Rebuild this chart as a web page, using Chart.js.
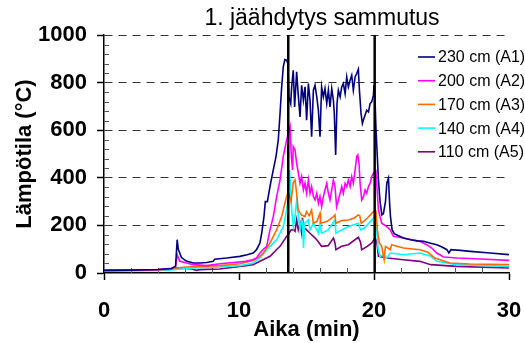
<!DOCTYPE html>
<html>
<head>
<meta charset="utf-8">
<script src="https://cdn.jsdelivr.net/npm/chart.js@4.4.1/dist/chart.umd.min.js"></script>
<style>
  body { margin: 0; background: #fff; }
  #kaavio { display: block; }
</style>
</head>
<body>
<canvas id="kaavio" width="525" height="343"></canvas>
<script>
// Mittaukset: aika (min) ja lämpötila (°C) kullakin korkeudella
const aikaA1 = [0, 2, 4, 5.0, 5.3, 5.42, 5.5, 5.74, 6.1, 6.6, 7.1, 7.6, 8.09, 8.2, 9.08, 10.07, 10.6, 11.05, 11.3, 11.55, 11.68, 11.85, 11.95, 12.1, 12.34, 12.54, 12.74, 12.91, 13.04, 13.16, 13.28, 13.4, 13.53, 13.62, 13.7, 13.83, 13.9, 14.02, 14.12, 14.27, 14.4, 14.52, 14.64, 14.77, 14.89, 15.01, 15.14, 15.26, 15.38, 15.51, 15.63, 15.76, 15.88, 16.0, 16.12, 16.25, 16.37, 16.5, 16.62, 16.74, 16.87, 16.99, 17.06, 17.16, 17.26, 17.36, 17.49, 17.61, 17.73, 17.86, 17.98, 18.1, 18.23, 18.35, 18.47, 18.6, 18.72, 18.84, 18.92, 19.04, 19.14, 19.29, 19.46, 19.59, 19.71, 19.83, 19.96, 20.0, 20.08, 20.15, 20.33, 20.45, 20.58, 20.7, 20.85, 20.95, 21.07, 21.15, 21.22, 21.34, 21.5, 21.7, 22.18, 22.7, 23.2, 23.67, 24.2, 24.65, 25.0, 25.4, 25.55, 25.7, 26.4, 27.13, 28.6, 30];
const lampoA1 = [11, 12, 15, 19, 28, 140, 100, 65, 50, 42, 42, 44, 49, 58, 63, 70, 77, 84, 98, 126, 167, 237, 300, 300, 377, 433, 489, 559, 670, 782, 866, 897, 894, 880, 740, 712, 782, 852, 698, 845, 740, 656, 789, 726, 782, 642, 796, 726, 573, 768, 789, 740, 684, 573, 782, 740, 775, 712, 768, 698, 775, 726, 670, 496, 712, 768, 740, 782, 796, 754, 824, 782, 810, 831, 768, 824, 838, 856, 768, 670, 628, 656, 684, 677, 712, 719, 747, 790, 720, 600, 391, 300, 244, 250, 300, 377, 398, 300, 237, 182, 165, 160, 147, 140, 135, 133, 125, 119, 110, 98, 84, 98, 95, 91, 84, 77];

const aikaA2 = [0, 4, 5.0, 5.3, 5.42, 5.6, 6.11, 6.6, 7.6, 8.6, 9.57, 10.5, 11.0, 11.3, 11.55, 11.8, 12.05, 12.3, 12.54, 12.79, 13.04, 13.28, 13.48, 13.62, 13.78, 13.88, 13.97, 14.02, 14.15, 14.27, 14.4, 14.52, 14.64, 14.77, 14.89, 15.01, 15.14, 15.26, 15.38, 15.51, 15.63, 15.76, 15.88, 16.0, 16.12, 16.25, 16.37, 16.5, 16.62, 16.74, 16.87, 16.99, 17.11, 17.23, 17.36, 17.49, 17.61, 17.73, 17.86, 17.98, 18.1, 18.23, 18.35, 18.47, 18.6, 18.72, 18.8, 18.89, 18.97, 19.09, 19.22, 19.34, 19.46, 19.59, 19.71, 19.83, 19.96, 20.08, 20.15, 20.33, 20.57, 20.95, 21.2, 21.44, 22.18, 22.8, 23.4, 23.9, 24.28, 24.65, 25.15, 26.14, 27.87, 30];
const lampoA2 = [11, 14, 20, 28, 77, 50, 42, 35, 31, 39, 44, 49, 56, 63, 84, 100, 112, 182, 237, 321, 391, 489, 545, 580, 615, 489, 433, 531, 517, 461, 419, 377, 405, 349, 377, 335, 391, 335, 363, 321, 307, 335, 293, 321, 279, 321, 349, 377, 335, 307, 349, 391, 363, 279, 307, 335, 363, 335, 377, 363, 391, 363, 405, 377, 433, 489, 496, 461, 377, 307, 321, 349, 335, 363, 377, 405, 419, 405, 419, 265, 209, 195, 181, 154, 147, 140, 133, 119, 105, 84, 67, 63, 59, 53];

const aikaA3 = [0, 4, 5.0, 5.3, 6.11, 7.1, 8.58, 10.07, 10.81, 11.05, 11.55, 11.8, 12.3, 12.79, 13.16, 13.4, 13.53, 13.65, 13.85, 14.02, 14.15, 14.27, 14.39, 14.64, 14.89, 15.0, 15.2, 15.38, 15.5, 15.76, 16.0, 16.05, 16.5, 17.0, 17.11, 17.18, 17.6, 18.1, 18.5, 18.84, 18.95, 19.05, 19.5, 20.08, 20.15, 20.25, 20.4, 20.57, 20.75, 20.85, 21.2, 21.3, 22.18, 23.4, 24.0, 24.5, 25.6, 27.1, 30];
const lampoA3 = [11, 13, 16, 21, 25, 28, 31, 39, 49, 52, 70, 84, 126, 182, 237, 293, 321, 340, 300, 380, 391, 335, 264, 243, 237, 258, 240, 265, 209, 216, 251, 209, 216, 237, 244, 209, 220, 223, 230, 244, 240, 209, 230, 265, 258, 181, 126, 112, 56, 112, 98, 119, 105, 98, 87, 63, 42, 38, 35];

const aikaA4 = [0, 4, 5.0, 5.5, 6.6, 8.58, 10.07, 11.05, 11.55, 12.3, 12.79, 13.28, 13.53, 13.65, 13.74, 13.8, 13.9, 14.02, 14.15, 14.27, 14.4, 14.52, 14.64, 14.72, 14.78, 14.86, 15.14, 15.26, 15.51, 15.76, 15.88, 16.0, 16.12, 16.6, 17.11, 17.18, 17.6, 18.1, 18.84, 19.0, 19.3, 20.08, 20.2, 20.3, 20.45, 20.7, 20.95, 21.2, 22.18, 23.4, 24.2, 24.65, 26.1, 30];
const lampoA4 = [10, 11, 13, 16, 21, 25, 31, 42, 63, 112, 140, 195, 265, 321, 433, 377, 265, 195, 237, 307, 237, 181, 223, 209, 105, 209, 223, 181, 209, 181, 167, 209, 167, 181, 223, 167, 181, 195, 209, 181, 190, 237, 180, 104, 70, 77, 63, 84, 77, 84, 70, 49, 35, 28];

const aikaA5 = [0, 4, 5.0, 5.25, 5.7, 6.5, 6.85, 7.1, 8.58, 10.07, 11.05, 11.55, 12.3, 12.9, 13.04, 13.53, 13.65, 13.85, 14.02, 14.15, 14.27, 14.39, 14.52, 14.64, 14.7, 14.77, 15.01, 15.26, 15.51, 15.76, 16.12, 16.6, 17.0, 17.11, 17.18, 17.6, 18.1, 18.84, 19.0, 19.09, 19.5, 19.83, 20.08, 20.2, 20.33, 21.0, 22.18, 23.4, 24.2, 26.1, 30];
const lampoA5 = [10, 12, 16, 21, 21, 17, 11, 14, 17, 28, 35, 49, 70, 105, 112, 154, 161, 181, 182, 175, 223, 181, 209, 168, 232, 195, 181, 167, 154, 140, 112, 115, 147, 126, 98, 112, 119, 150, 130, 98, 112, 126, 147, 133, 70, 63, 56, 49, 35, 28, 21];

const sarjat = ['230 cm (A1)', '200 cm (A2)', '170 cm (A3)', '140 cm (A4)', '110 cm (A5)'];
const varit = ['#000080', '#ff00ff', '#ff6a00', '#00ffff', '#800080'];

// Sammutuksen alku ja loppu (min)
const sammutusAjat = [13.65, 20.05];

// Asteikot
const yTikit = [0, 200, 400, 600, 800, 1000];
const yApuTikit = [40, 80, 120, 160, 240, 280, 320, 360, 440, 480, 520, 560, 640, 680, 720, 760, 840, 880, 920, 960];
const xTikit = [0, 10, 20, 30];
const xApuTikit = [2, 4, 6, 8, 12, 14, 16, 18, 22, 24, 26, 28];

function pisteet(ajat, arvot) {
    return ajat.map((t, i) => ({ x: t, y: arvot[i] }));
}

const aikaSarjat = [aikaA1, aikaA2, aikaA3, aikaA4, aikaA5];
const lampoSarjat = [lampoA1, lampoA2, lampoA3, lampoA4, lampoA5];

const datasets = [];
sammutusAjat.forEach(t => {
    datasets.push({
        label: 'sammutus',
        data: [{ x: t, y: yTikit[0] }, { x: t, y: yTikit[yTikit.length - 1] }],
        borderColor: '#000',
        borderWidth: 2.5,
        pointRadius: 0
    });
});
sarjat.forEach((nimi, i) => {
    datasets.push({
        label: nimi,
        data: pisteet(aikaSarjat[i], lampoSarjat[i]),
        borderColor: varit[i],
        borderWidth: 1.6,
        pointRadius: 0,
        tension: 0
    });
});

const fontti = 'Liberation Sans, Arial, sans-serif';

// Sisäpuoliset apuviivat, otsikko ja selite
const lisat = {
    id: 'lisat',
    beforeDatasetsDraw(chart) {
        const { ctx, chartArea, scales } = chart;
        ctx.save();
        ctx.strokeStyle = '#555';
        ctx.lineWidth = 1;
        yApuTikit.forEach(v => {
            const y = Math.round(scales.y.getPixelForValue(v)) + 0.5;
            ctx.beginPath();
            ctx.moveTo(chartArea.left, y);
            ctx.lineTo(chartArea.left + 5, y);
            ctx.stroke();
        });
        xApuTikit.forEach(v => {
            const x = Math.round(scales.x.getPixelForValue(v)) + 0.5;
            ctx.beginPath();
            ctx.moveTo(x, chartArea.bottom);
            ctx.lineTo(x, chartArea.bottom - 5);
            ctx.stroke();
        });
        ctx.restore();
    },
    afterDraw(chart) {
        const { ctx } = chart;
        ctx.save();
        ctx.fillStyle = '#000';
        ctx.font = '23px ' + fontti;
        ctx.textAlign = 'center';
        ctx.textBaseline = 'middle';
        ctx.fillText('1. jäähdytys sammutus', 322, 18.5);

        // selite
        ctx.fillStyle = '#fff';
        ctx.fillRect(412, 41, 113, 124);
        ctx.font = '16px ' + fontti;
        ctx.textAlign = 'left';
        sarjat.forEach((nimi, i) => {
            const y = 57 + i * 23.7;
            ctx.strokeStyle = varit[i];
            ctx.lineWidth = 1.6;
            ctx.beginPath();
            ctx.moveTo(418, y);
            ctx.lineTo(435, y);
            ctx.stroke();
            ctx.fillStyle = '#000';
            ctx.fillText(nimi, 438, y + 1);
        });
        ctx.restore();
    }
};

new Chart(document.getElementById('kaavio'), {
    type: 'line',
    data: { datasets: datasets },
    options: {
        responsive: false,
        animation: false,
        devicePixelRatio: 1,
        layout: { padding: { top: 35, right: 0, bottom: 0, left: 0 } },
        plugins: {
            legend: { display: false },
            tooltip: { enabled: false }
        },
        scales: {
            x: {
                type: 'linear',
                min: 0,
                max: 30,
                afterBuildTicks: s => { s.ticks = xTikit.map(v => ({ value: v })); },
                afterFit: s => {
                    s.height = 70;
                    s.paddingLeft = 0;
                    s.paddingRight = 16;
                },
                ticks: {
                    color: '#000',
                    padding: 18,
                    maxRotation: 0,
                    callback: v => String(v),
                    font: { family: fontti, size: 22, weight: 'bold' }
                },
                grid: {
                    drawOnChartArea: false,
                    drawTicks: true,
                    tickLength: 7,
                    tickColor: '#000',
                    tickWidth: 1.5
                },
                border: { color: '#000', width: 1.5 },
                title: {
                    display: true,
                    text: 'Aika (min)',
                    color: '#000',
                    padding: { top: 0, bottom: 0 },
                    font: { family: fontti, size: 22, weight: 'bold' }
                }
            },
            y: {
                min: 0,
                max: 1000,
                afterBuildTicks: s => { s.ticks = yTikit.map(v => ({ value: v })); },
                afterFit: s => { s.width = 104; },
                ticks: {
                    color: '#000',
                    padding: 10,
                    callback: v => String(v),
                    font: { family: fontti, size: 22, weight: 'bold' }
                },
                grid: {
                    color: c => (c.tick && c.tick.value === 0 ? 'rgba(0,0,0,0)' : '#333'),
                    lineWidth: 1,
                    drawTicks: true,
                    tickLength: 7,
                    tickColor: '#000',
                    tickWidth: 1.5
                },
                border: { color: '#000', width: 1.5, dash: [8, 6] },
                title: {
                    display: true,
                    text: 'Lämpötila (°C)',
                    color: '#000',
                    padding: { top: 12, bottom: 0 },
                    font: { family: fontti, size: 22, weight: 'bold' }
                }
            }
        }
    },
    plugins: [lisat]
});
</script>
</body>
</html>
